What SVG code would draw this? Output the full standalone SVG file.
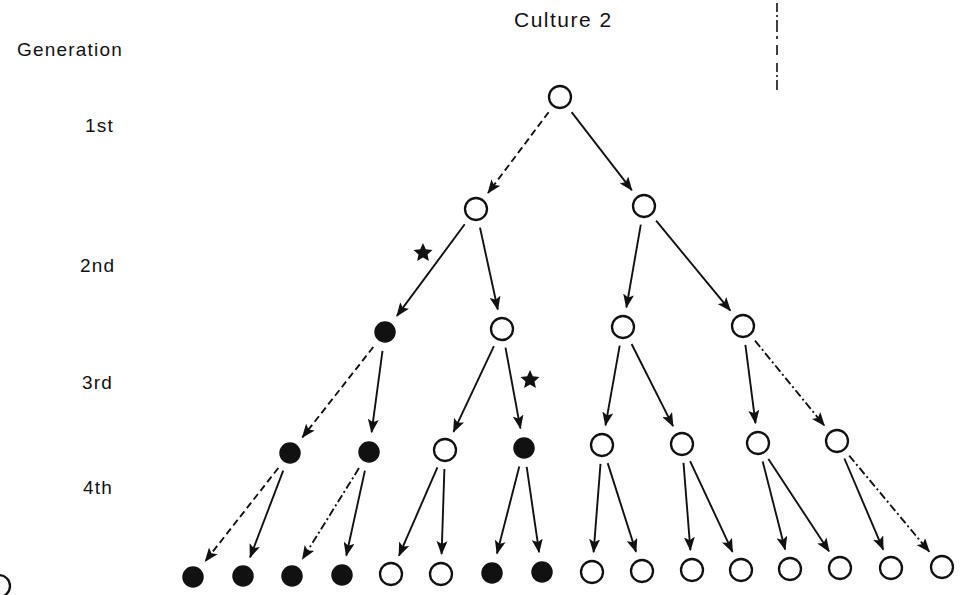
<svg xmlns="http://www.w3.org/2000/svg" width="965" height="595" viewBox="0 0 965 595">
<defs>
<marker id="ah" markerUnits="userSpaceOnUse" markerWidth="14" markerHeight="11" refX="13" refY="5.5" orient="auto">
<path d="M0,0 L14,5.5 L0,11 L3,5.5 z" fill="#111"/>
</marker>
<style>
.lbl{font-family:"Liberation Sans","DejaVu Sans",sans-serif;font-size:19px;fill:#111;letter-spacing:1.2px}
.ttl{font-size:21px;letter-spacing:1.5px}
.o{fill:#fff;stroke:#111;stroke-width:2.3}
.f{fill:#111;stroke:#111;stroke-width:1.5}
.e{stroke:#111;stroke-width:1.9;fill:none;marker-end:url(#ah)}
.d{stroke-dasharray:7 4}
.dd{stroke-dasharray:8 3 2 3}
.star{fill:#111}
</style>
</defs>
<rect width="965" height="595" fill="#fff"/>
<text class="lbl ttl" x="514" y="27">Culture 2</text>
<text class="lbl" x="17" y="56">Generation</text>
<text class="lbl" x="85" y="132">1st</text>
<text class="lbl" x="80" y="272">2nd</text>
<text class="lbl" x="82" y="389">3rd</text>
<text class="lbl" x="83" y="494">4th</text>
<line x1="777" y1="3" x2="777" y2="90" stroke="#111" stroke-width="1.6" stroke-dasharray="9 3 2 3 12 4 3 6 10 8"/>
<circle cx="-1" cy="586" r="11" class="o"/>
<polygon class="star" points="423,243 425.8,249.2 432.5,249.9 427.5,254.4 428.9,261 423,257.6 417.1,261 418.5,254.4 413.5,249.9 420.2,249.2"/>
<polygon class="star" points="530,370 532.8,376.2 539.5,376.9 534.5,381.4 535.9,388 530,384.6 524.1,388 525.5,381.4 520.5,376.9 527.2,376.2"/>
<g id="connectors">
<line class="e d" x1="548.6" y1="112.2" x2="488" y2="193"/>
<line class="e" x1="571.6" y1="112.1" x2="631.8" y2="190.2"/>
<line class="e" x1="464.7" y1="224.3" x2="396.9" y2="315.9"/>
<line class="e" x1="480" y1="227.6" x2="497.8" y2="309.5"/>
<line class="e" x1="640.8" y1="224.7" x2="626.4" y2="307.3"/>
<line class="e" x1="656.1" y1="220.7" x2="730.3" y2="310.6"/>
<line class="e d" x1="373.3" y1="347" x2="302.4" y2="437.3"/>
<line class="e" x1="382.5" y1="350.8" x2="371.6" y2="432.2"/>
<line class="e" x1="493.9" y1="346.2" x2="453.5" y2="431.9"/>
<line class="e" x1="505.5" y1="347.7" x2="520.4" y2="428.3"/>
<line class="e" x1="619.7" y1="345.7" x2="605.5" y2="425.3"/>
<line class="e" x1="631.6" y1="344" x2="673" y2="426.1"/>
<line class="e" x1="745.4" y1="344.8" x2="755.5" y2="423.2"/>
<line class="e dd" x1="755" y1="340.7" x2="824.3" y2="425.5"/>
<line class="e d" x1="278.3" y1="468" x2="205.3" y2="561.2"/>
<line class="e" x1="283.2" y1="470.7" x2="250.1" y2="557.3"/>
<line class="e dd" x1="359" y1="468.1" x2="302.5" y2="559"/>
<line class="e" x1="364.9" y1="470.6" x2="346.3" y2="555.5"/>
<line class="e" x1="437.4" y1="467.4" x2="399" y2="555.7"/>
<line class="e" x1="444.4" y1="469" x2="441.6" y2="554"/>
<line class="e" x1="519.3" y1="466.4" x2="497" y2="553.6"/>
<line class="e" x1="526.7" y1="466.8" x2="539.1" y2="552.2"/>
<line class="e" x1="600.5" y1="463.9" x2="593.6" y2="552.1"/>
<line class="e" x1="607.7" y1="463.1" x2="636" y2="551.9"/>
<line class="e" x1="683.5" y1="462.9" x2="690.4" y2="550.1"/>
<line class="e" x1="690.1" y1="461.2" x2="732.5" y2="551.9"/>
<line class="e" x1="762.7" y1="461.4" x2="785.1" y2="549.6"/>
<line class="e" x1="768.4" y1="458.9" x2="829" y2="551.3"/>
<line class="e" x1="844.4" y1="458.5" x2="883.2" y2="549.6"/>
<line class="e dd" x1="849.2" y1="455.6" x2="929.2" y2="551.6"/>
</g>
<g id="n-root"><circle class="o" cx="560" cy="97" r="11"/></g>
<g id="n-2a"><circle class="o" cx="476" cy="209" r="11"/></g>
<g id="n-2b"><circle class="o" cx="644" cy="206" r="11"/></g>
<g id="n-3a"><circle class="f" cx="385" cy="332" r="10"/></g>
<g id="n-3b"><circle class="o" cx="502" cy="329" r="11"/></g>
<g id="n-3c"><circle class="o" cx="623" cy="327" r="11"/></g>
<g id="n-3d"><circle class="o" cx="743" cy="326" r="11"/></g>
<g id="n-4a"><circle class="f" cx="290" cy="453" r="10"/></g>
<g id="n-4b"><circle class="f" cx="369" cy="452" r="10"/></g>
<g id="n-4c"><circle class="o" cx="445" cy="450" r="11"/></g>
<g id="n-4d"><circle class="f" cx="524" cy="448" r="10"/></g>
<g id="n-4e"><circle class="o" cx="602" cy="445" r="11"/></g>
<g id="n-4f"><circle class="o" cx="682" cy="444" r="11"/></g>
<g id="n-4g"><circle class="o" cx="758" cy="443" r="11"/></g>
<g id="n-4h"><circle class="o" cx="837" cy="441" r="11"/></g>
<g id="n-5a"><circle class="f" cx="193" cy="577" r="10"/></g>
<g id="n-5b"><circle class="f" cx="243" cy="576" r="10"/></g>
<g id="n-5c"><circle class="f" cx="292" cy="576" r="10"/></g>
<g id="n-5d"><circle class="f" cx="342" cy="575" r="10"/></g>
<g id="n-5e"><circle class="o" cx="391" cy="574" r="11"/></g>
<g id="n-5f"><circle class="o" cx="441" cy="574" r="11"/></g>
<g id="n-5g"><circle class="f" cx="492" cy="573" r="10"/></g>
<g id="n-5h"><circle class="f" cx="542" cy="572" r="10"/></g>
<g id="n-5i"><circle class="o" cx="592" cy="572" r="11"/></g>
<g id="n-5j"><circle class="o" cx="642" cy="571" r="11"/></g>
<g id="n-5k"><circle class="o" cx="692" cy="570" r="11"/></g>
<g id="n-5l"><circle class="o" cx="741" cy="570" r="11"/></g>
<g id="n-5m"><circle class="o" cx="790" cy="569" r="11"/></g>
<g id="n-5n"><circle class="o" cx="840" cy="568" r="11"/></g>
<g id="n-5o"><circle class="o" cx="891" cy="568" r="11"/></g>
<g id="n-5p"><circle class="o" cx="942" cy="567" r="11"/></g>
</svg>
